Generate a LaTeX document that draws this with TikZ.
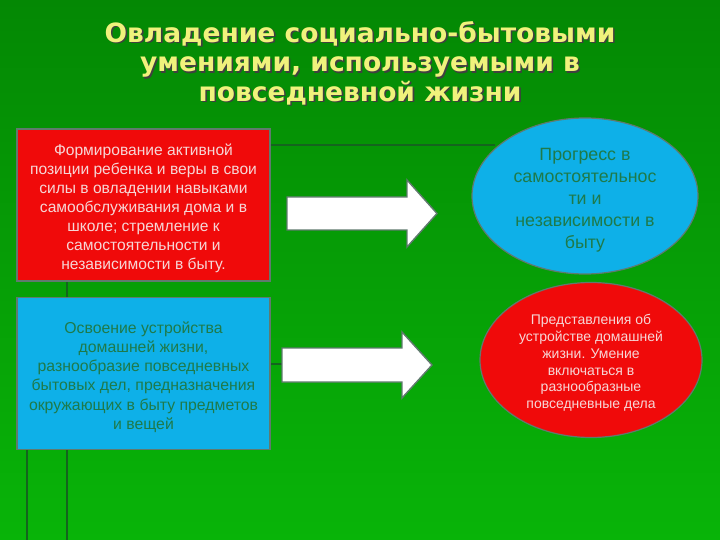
\documentclass[tikz,border=0pt]{standalone}
\usepackage{fontspec}
\setmainfont{Liberation Sans}
\newfontfamily\titlefont{DejaVu Sans}
\usetikzlibrary{shapes.geometric}
\definecolor{bgtop}{RGB}{4,136,4}
\definecolor{bgbot}{RGB}{8,180,8}
\definecolor{boxred}{RGB}{240,10,10}
\definecolor{boxblue}{RGB}{14,176,232}
\definecolor{rim}{RGB}{96,122,110}
\definecolor{pinktext}{RGB}{246,214,214}
\definecolor{tealtext}{RGB}{30,122,74}
\definecolor{ttl}{RGB}{240,242,124}
\definecolor{faint}{RGB}{20,100,30}
\tikzset{
  panel/.style={draw=rim, line width=1.6pt, minimum width=253pt, minimum height=152pt, inner sep=0pt},
  oval/.style={draw=rim, line width=1.2pt, ellipse, inner sep=0pt},
  txt/.style={align=center, inner sep=0pt},
  bigarrow/.style={draw=rim, fill=white, line width=1.4pt, line join=miter},
  guide/.style={draw=faint, line width=1.2pt}
}
\begin{document}
\begin{tikzpicture}[x=1pt,y=-1pt]
\shade[top color=bgtop, bottom color=bgbot] (0,0) rectangle (720,540);
\useasboundingbox (0,0) rectangle (720,540);
% faint template lines
\coordinate (g1) at (270,145); \coordinate (g2) at (495,145);
\draw[guide] (g1) -- (g2);
\coordinate (v1) at (67,280); \coordinate (v2) at (67,540);
\draw[guide] (v1) -- (v2);
\coordinate (v3) at (27,449); \coordinate (v4) at (27,540);
\draw[guide] (v3) -- (v4);
\coordinate (h1) at (270,364); \coordinate (h2) at (283,364);
\draw[guide] (h1) -- (h2);
% title
\node[txt, text=black!75, font=\titlefont\bfseries\fontsize{26.5}{29.5}\selectfont] (ttlsh) at (361.6,64.6)
 {Овладение социально-бытовыми\\умениями, используемыми в\\повседневной жизни};
\node[txt, text=ttl, font=\titlefont\bfseries\fontsize{26.5}{29.5}\selectfont] (ttlt) at (360,63)
 {Овладение социально-бытовыми\\умениями, используемыми в\\повседневной жизни};
% left boxes
\node[panel, fill=boxred] (rb) at (143.5,205) {};
\node[txt, text=pinktext, font=\fontsize{15.6}{19}\selectfont] (rbt) at (143.5,208)
 {Формирование активной\\позиции ребенка и веры в свои\\силы в овладении навыками\\самообслуживания дома и в\\школе; стремление к\\самостоятельности и\\независимости в быту.};
\node[panel, fill=boxblue] (bb) at (143.5,373.5) {};
\node[txt, text=tealtext, font=\fontsize{15.8}{19.2}\selectfont] (bbt) at (143.5,377)
 {Освоение устройства\\домашней жизни,\\разнообразие повседневных\\бытовых дел, предназначения\\окружающих в быту предметов\\и вещей};
% arrows
\draw[bigarrow] (287,197) -- (407,197) -- (407,180) -- (437,213.5) -- (407,247) -- (407,230) -- (287,230) -- cycle;
\draw[bigarrow] (282,348) -- (402,348) -- (402,332) -- (432,365) -- (402,398) -- (402,382) -- (282,382) -- cycle;
% right ovals
\node[oval, fill=boxblue, minimum width=226pt, minimum height=156pt] (be) at (585,196) {};
\node[txt, text=tealtext, font=\fontsize{17.8}{22}\selectfont] (bet) at (585,200)
 {Прогресс в\\самостоятельнос\\ти и\\независимости в\\быту};
\node[oval, fill=boxred, minimum width=222pt, minimum height=155pt] (re) at (591,360) {};
\node[txt, text=pinktext, font=\fontsize{14}{16.8}\selectfont] (ret) at (591,363)
 {Представления об\\устройстве домашней\\жизни. Умение\\включаться в\\разнообразные\\повседневные дела};
\end{tikzpicture}
\end{document}
